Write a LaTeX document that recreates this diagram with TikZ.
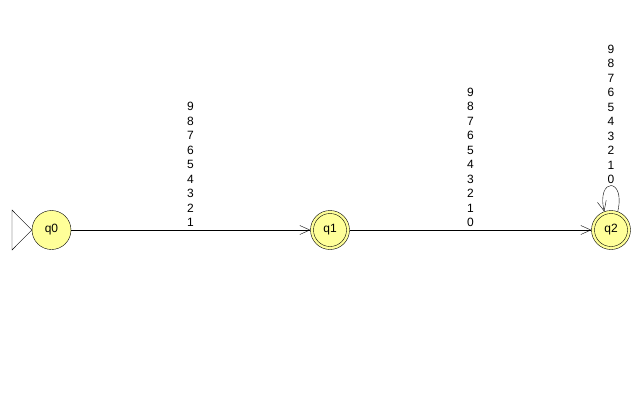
\documentclass[tikz,border=0pt]{standalone}
\usepackage{fontspec}
\setmainfont{Liberation Sans}
\usetikzlibrary{arrows.meta}
\definecolor{statefill}{RGB}{255,255,153}
\begin{document}
\begin{tikzpicture}[x=1pt,y=-1pt,
  state/.style={circle,draw=black,fill=statefill,minimum size=39pt,inner sep=0pt,font=\fontsize{12}{14}\selectfont},
  inner/.style={circle,draw=black,minimum size=33pt,inner sep=0pt,font=\fontsize{12}{14}\selectfont},
  trans/.style={draw=black,-{Straight Barb[length=10pt,width=9pt]}},
  lbl/.style={align=center,inner sep=1pt,anchor=south,font=\fontsize{12}{14.5}\selectfont}]
\useasboundingbox (0,0) rectangle (642,410);
\fill[white] (0,0) rectangle (642,410);
\node[state] (q0) at (51.5,230) {q0};
\node[state] (q1) at (330,230) {};
\node[state] (q2) at (611,230) {};
\node[inner] (q1i) at (q1) {q1};
\node[inner] (q2i) at (q2) {q2};
\draw[black] (12,210) -- (12,250) -- (q0.west) -- cycle;
\path[trans] (q0) -- (q1);
\path[trans] (q1) -- (q2);
\coordinate (m1) at (190.5,228);
\coordinate (m2) at (470.5,228);
\node[lbl] (l1) at (m1) {9\\8\\7\\6\\5\\4\\3\\2\\1};
\node[lbl] (l2) at (m2) {9\\8\\7\\6\\5\\4\\3\\2\\1\\0};
\draw[trans] (q2.70) .. controls (626,177) and (596,177) .. (q2.110);
\node[lbl] (l3) at (611,185) {9\\8\\7\\6\\5\\4\\3\\2\\1\\0};
\end{tikzpicture}
\end{document}
